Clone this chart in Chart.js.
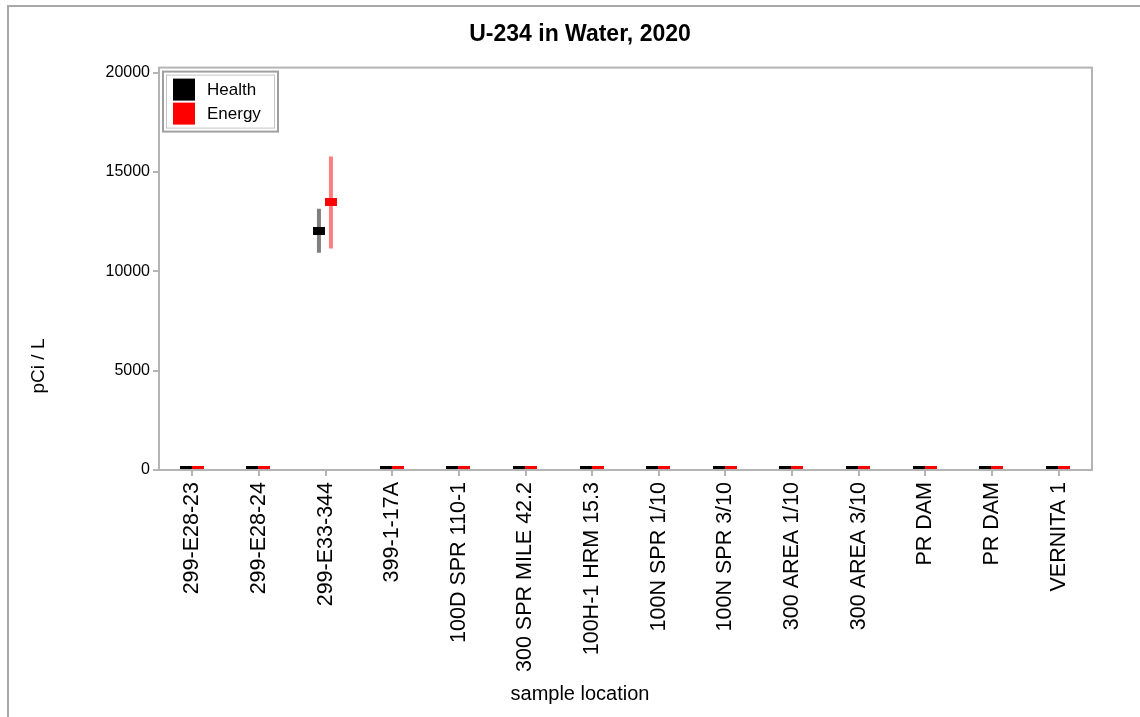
<!DOCTYPE html>
<html>
<head>
<meta charset="utf-8">
<title>U-234 in Water, 2020</title>
<script src="https://cdn.jsdelivr.net/npm/chart.js@4.4.1/dist/chart.umd.min.js"></script>
<style>
  html, body { margin: 0; padding: 0; background: #fff; }
  #wrap { position: relative; width: 1140px; height: 717px; overflow: hidden; }
  #frame {
    position: absolute; left: 7px; top: 5px; right: -4px; bottom: -4px;
    border-left: 2px solid #a8a8a8; border-top: 2px solid #a8a8a8;
    pointer-events: none;
  }
</style>
</head>
<body>
<div id="wrap">
  <canvas id="chart" width="1140" height="717"></canvas>
  <div id="frame"></div>
</div>
<script>
// --- data ---
const locations = [
  "299-E28-23", "299-E28-24", "299-E33-344", "399-1-17A", "100D SPR 110-1",
  "300 SPR MILE 42.2", "100H-1 HRM 15.3", "100N SPR 1/10", "100N SPR 3/10",
  "300 AREA 1/10", "300 AREA 3/10", "PR DAM", "PR DAM", "VERNITA 1"
];
const healthValues = [0, 0, 12050, 0, 0, 0, 0, 0, 0, 0, 0, 0, 0, 0];
const healthLow    = [null, null, 10930, null, null, null, null, null, null, null, null, null, null, null];
const healthHigh   = [null, null, 13150, null, null, null, null, null, null, null, null, null, null, null];
const energyValues = [0, 0, 13470, 0, 0, 0, 0, 0, 0, 0, 0, 0, 0, 0];
const energyLow    = [null, null, 11150, null, null, null, null, null, null, null, null, null, null, null];
const energyHigh   = [null, null, 15770, null, null, null, null, null, null, null, null, null, null, null];
const yTicks = [0, 5000, 10000, 15000, 20000];

const FONT = "'Liberation Sans', Arial, sans-serif";
const AXIS_GRAY = "#b4b4b4";
const yTitle = "pCi / L";
const xTitle = "sample location";

// small rectangle marker used as point style
function makeMarker(color) {
  const c = document.createElement("canvas");
  c.width = 12;
  c.height = 8;
  const g = c.getContext("2d");
  g.fillStyle = color;
  g.fillRect(0, 0, 12, 8);
  return c;
}

function buildPoints(values, low, high, shift) {
  return values.map((v, i) => ({ x: i + shift, y: v, low: low[i], high: high[i] }));
}

// vertical error bars behind the markers
const errorBars = {
  id: "errorBars",
  beforeDatasetsDraw(chart) {
    const { ctx, chartArea, scales } = chart;
    ctx.save();
    ctx.beginPath();
    ctx.rect(chartArea.left, chartArea.top, chartArea.right - chartArea.left, chartArea.bottom - chartArea.top);
    ctx.clip();
    chart.data.datasets.forEach((ds) => {
      ctx.strokeStyle = ds.barColor;
      ctx.lineWidth = 4;
      ds.data.forEach((p) => {
        if (p.low == null || p.high == null) return;
        const x = scales.x.getPixelForValue(p.x);
        ctx.beginPath();
        ctx.moveTo(x, scales.y.getPixelForValue(p.low));
        ctx.lineTo(x, scales.y.getPixelForValue(p.high));
        ctx.stroke();
      });
    });
    ctx.restore();
  },
};

// plot frame, legend box and the two axis titles
const frameAndLegend = {
  id: "frameAndLegend",
  afterDraw(chart) {
    const { ctx, chartArea } = chart;
    ctx.save();
    ctx.strokeStyle = AXIS_GRAY;
    ctx.lineWidth = 2;
    ctx.strokeRect(chartArea.left, chartArea.top, chartArea.right - chartArea.left, chartArea.bottom - chartArea.top);

    const bx = chartArea.left + 4, by = chartArea.top + 4, bw = 115, bh = 60;
    ctx.fillStyle = "#fff";
    ctx.fillRect(bx, by, bw, bh);
    ctx.strokeStyle = "#a0a0a0";
    ctx.lineWidth = 2;
    ctx.strokeRect(bx, by, bw, bh);
    ctx.lineWidth = 1;
    ctx.strokeStyle = "#c4c4c4";
    ctx.strokeRect(bx + 3.5, by + 3.5, bw - 7, bh - 7);

    ctx.font = "17px " + FONT;
    ctx.textBaseline = "middle";
    chart.data.datasets.forEach((ds, i) => {
      const sy = by + 7 + i * 24;
      ctx.fillStyle = ds.swatch;
      ctx.fillRect(bx + 10, sy, 22, 22);
      ctx.fillStyle = "#000";
      ctx.fillText(ds.label, bx + 44, sy + 12);
    });

    // axis titles (placed like the original, not centred on the plot)
    ctx.fillStyle = "#000";
    ctx.textAlign = "center";
    ctx.font = "20px " + FONT;
    ctx.fillText(xTitle, 580, 694);
    ctx.translate(39, chartArea.bottom - 104);
    ctx.rotate(-Math.PI / 2);
    ctx.font = "19px " + FONT;
    ctx.fillText(yTitle, 0, 0);
    ctx.restore();
  },
};

const ctx = document.getElementById("chart").getContext("2d");
new Chart(ctx, {
  type: "scatter",
  data: {
    datasets: [
      {
        label: "Health",
        data: buildPoints(healthValues, healthLow, healthHigh, -0.1),
        pointStyle: makeMarker("#000"),
        pointRadius: 6,
        swatch: "#000",
        barColor: "rgba(0,0,0,0.5)",
        clip: 0,
      },
      {
        label: "Energy",
        data: buildPoints(energyValues, energyLow, energyHigh, 0.08),
        pointStyle: makeMarker("#ff0000"),
        pointRadius: 6,
        swatch: "#ff0000",
        barColor: "rgba(255,0,0,0.5)",
        clip: 0,
      },
    ],
  },
  options: {
    responsive: false,
    animation: false,
    layout: { padding: { left: 68, right: 48, top: 0, bottom: 0 } },
    plugins: {
      legend: { display: false },
      tooltip: { enabled: false },
      title: {
        display: true,
        text: "U-234 in Water, 2020",
        color: "#000",
        font: { family: FONT, size: 23, weight: "bold", lineHeight: 1.2 },
        padding: { top: 21, bottom: 19 },
      },
    },
    scales: {
      x: {
        type: "linear",
        min: -0.5,
        max: locations.length - 0.5,
        afterBuildTicks: (scale) => {
          scale.ticks = locations.map((_, i) => ({ value: i }));
        },
        afterFit: (scale) => {
          scale.height = 247;
        },
        grid: { drawOnChartArea: false, drawTicks: true, tickLength: 6, color: AXIS_GRAY, lineWidth: 2 },
        border: { color: AXIS_GRAY, width: 2 },
        ticks: {
          autoSkip: false,
          minRotation: 90,
          maxRotation: 90,
          padding: 6,
          color: "#000",
          font: { family: FONT, size: 21.5 },
          callback: (v) => locations[Math.round(v)],
        },
      },
      y: {
        min: 0,
        max: 20250,
        afterBuildTicks: (scale) => {
          scale.ticks = yTicks.map((v) => ({ value: v }));
        },
        afterFit: (scale) => {
          scale.width = 91;
        },
        grid: { drawOnChartArea: false, drawTicks: true, tickLength: 6, color: AXIS_GRAY, lineWidth: 2 },
        border: { color: AXIS_GRAY, width: 2 },
        ticks: {
          padding: 3,
          color: "#000",
          font: { family: FONT, size: 16 },
          callback: (v) => String(v),
        },
      },
    },
  },
  plugins: [errorBars, frameAndLegend],
});
</script>
</body>
</html>
